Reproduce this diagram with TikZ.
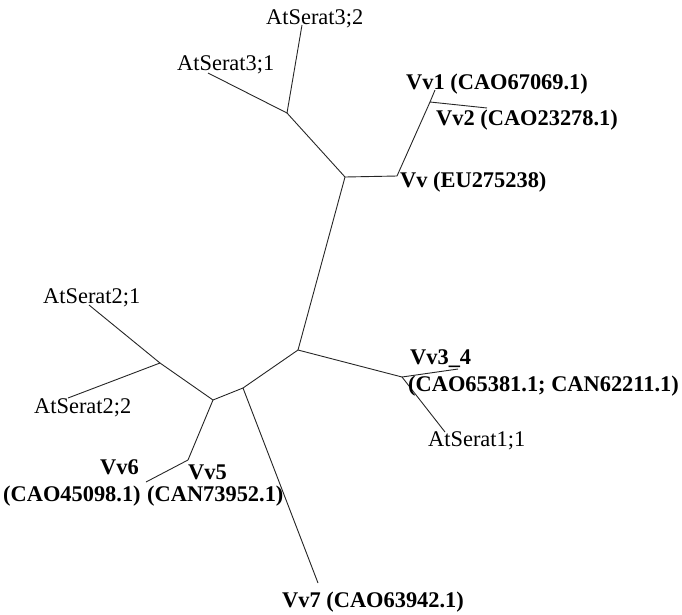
\documentclass[tikz,border=0pt]{standalone}
\usepackage{fontspec}
\setmainfont{Liberation Serif}
\begin{document}
\begin{tikzpicture}[x=1pt,y=-1pt,
  branch/.style={line width=0.9pt, black!85},
  lab/.style={anchor=base west, inner sep=0pt, font=\fontsize{22.4}{24}\selectfont},
  blab/.style={anchor=base west, inner sep=0pt, font=\fontsize{22.4}{24}\selectfont\bfseries}]
\useasboundingbox (0,0) rectangle (682,614);
% tree vertices
\coordinate (nA) at (287,113);
\coordinate (nB) at (345,177);
\coordinate (nVv) at (397,176);
\coordinate (nC) at (430,102);
\coordinate (lVv1) at (435,90);
\coordinate (lVv2) at (487,108);
\coordinate (l31) at (208,73);
\coordinate (l32) at (302,25);
\coordinate (nD) at (298,350);
\coordinate (nE) at (402,377);
\coordinate (lVv34) at (458,369);
\coordinate (l11) at (445,432);
\coordinate (nF) at (243,388);
\coordinate (nG) at (213,400);
\coordinate (nH) at (160,363);
\coordinate (l21) at (89,305);
\coordinate (l22) at (68,398);
\coordinate (nI) at (188,460);
\coordinate (lVv6) at (146,482);
\coordinate (lVv7) at (318,583);
% branches
\draw[branch] (l31) -- (nA);
\draw[branch] (l32) -- (nA);
\draw[branch] (nA) -- (nB);
\draw[branch] (nB) -- (nVv);
\draw[branch] (nVv) -- (nC);
\draw[branch] (nC) -- (lVv1);
\draw[branch] (nC) -- (lVv2);
\draw[branch] (nB) -- (nD);
\draw[branch] (nD) -- (nE);
\draw[branch] (nE) -- (lVv34);
\draw[branch] (nE) -- (l11);
\draw[branch] (nD) -- (nF);
\draw[branch] (nF) -- (lVv7);
\draw[branch] (nF) -- (nG);
\draw[branch] (nG) -- (nH);
\draw[branch] (nH) -- (l21);
\draw[branch] (nH) -- (l22);
\draw[branch] (nG) -- (nI);
\draw[branch] (nI) -- (lVv6);
% labels
\node[lab] (t32) at (266,24) {AtSerat3;2};
\node[lab] (t31) at (177,70) {AtSerat3;1};
\node[blab] (tVv1) at (406,89) {Vv1 (CAO67069.1)};
\node[blab] (tVv2) at (436,125) {Vv2 (CAO23278.1)};
\node[blab] (tVv) at (400,187) {Vv (EU275238)};
\node[lab] (t21) at (43,303) {AtSerat2;1};
\node[lab] (t22) at (34,413) {AtSerat2;2};
\node[blab] (tVv34) at (410,364) {Vv3\_4};
\node[blab] (tVv34b) at (408,391) {(CAO65381.1; CAN62211.1)};
\node[lab] (t11) at (428,446) {AtSerat1;1};
\node[blab] (tVv6) at (100,474) {Vv6};
\node[blab] (tVv6b) at (3,501) {(CAO45098.1)};
\node[blab] (tVv5) at (188,479) {Vv5};
\node[blab] (tVv5b) at (147,501) {(CAN73952.1)};
\node[blab] (tVv7) at (282,607) {Vv7 (CAO63942.1)};
\end{tikzpicture}
\end{document}
